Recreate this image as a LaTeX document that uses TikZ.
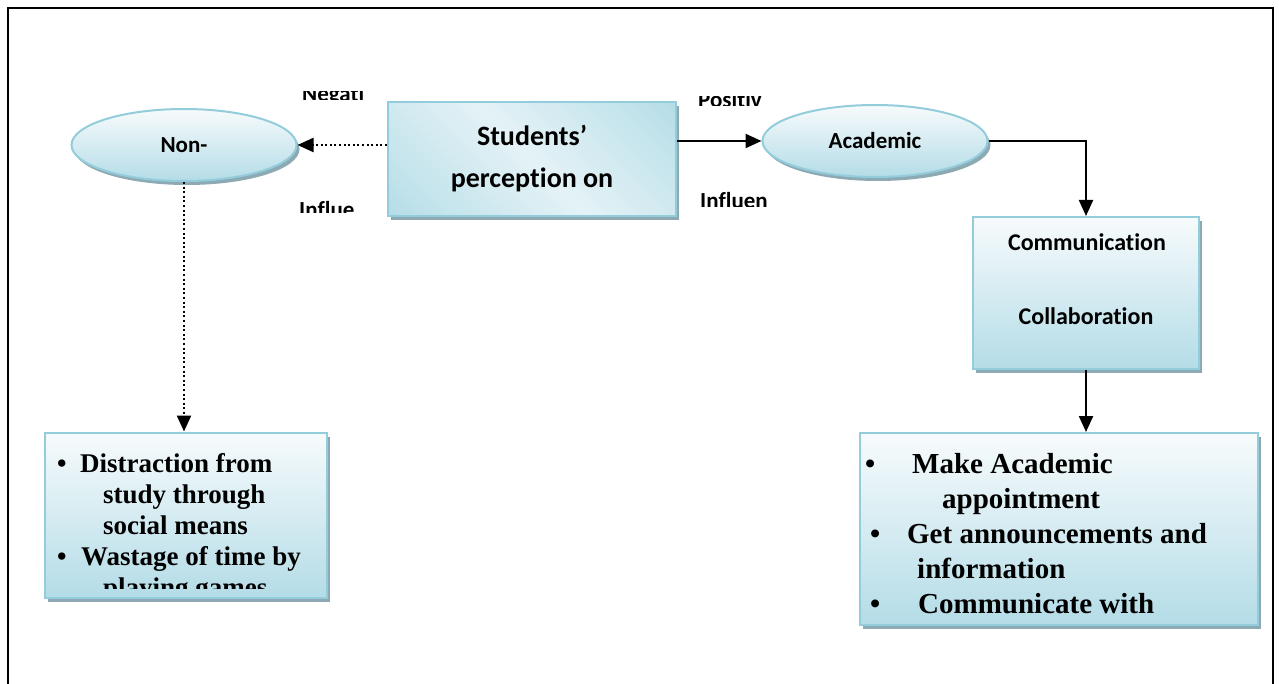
\documentclass[tikz,border=0pt]{standalone}
\usepackage{fontspec}
\setmainfont{Liberation Serif}
\newfontfamily\calfont[Ligatures=NoCommon]{Carlito}
\usetikzlibrary{arrows.meta,shapes.geometric,shadows}

\definecolor{rimblue}{HTML}{93CDDC}
\definecolor{paleblue}{HTML}{F7FBFC}
\definecolor{deepblue}{HTML}{B4DCE7}
\definecolor{shadowgrey}{HTML}{8DA9B3}
\definecolor{cornerblue}{HTML}{9FD1DE}
\definecolor{midblue}{HTML}{C4E4EC}
\definecolor{bandblue}{HTML}{E4F2F6}

\pgfdeclarehorizontalshading{studsheen}{100bp}{color(0bp)=(cornerblue); color(25bp)=(midblue);
  color(50bp)=(bandblue); color(75bp)=(midblue); color(100bp)=(cornerblue)}

\tikzset{
  glow/.style={draw=rimblue, line width=2pt, top color=paleblue, bottom color=deepblue,
    drop shadow={shadow xshift=3pt, shadow yshift=-4pt, fill=shadowgrey, opacity=1}},
  blob/.style={glow, ellipse, minimum width=225pt, minimum height=72pt, inner sep=0pt,
    font=\calfont\bfseries\fontsize{23}{27}\selectfont},
  panel/.style={glow, rectangle, inner sep=0pt},
  tag/.style={anchor=base west, inner sep=0pt, font=\calfont\bfseries\fontsize{23}{27}\selectfont},
  solidarr/.style={line width=2.2pt, -{Triangle[length=16pt,width=14pt]}},
  dotarr/.style={line width=2.2pt, dash pattern=on 2pt off 2.6pt, -{Triangle[length=16pt,width=14pt]}},
}

\begin{document}
\begin{tikzpicture}[x=1pt, y=-1pt]
\useasboundingbox (0,0) rectangle (1279,684);
\draw[line width=2pt] (8,684) -- (8,8) -- (1273,8) -- (1273,684);

% shapes
\node[blob] (non) at (184,145) {Non-};
\node[blob] (acad) at (875,141) {Academic};
\node[panel, minimum width=288pt, minimum height=114pt, align=center,
  shading=studsheen, shading angle=45,
  font=\calfont\bfseries\fontsize{28}{42}\selectfont] (stud) at (532,159) {Students’\\perception on};
\node[panel, minimum width=226pt, minimum height=152pt] (comm) at (1086,293) {};
\node[panel, minimum width=282pt, minimum height=165pt] (llist) at (186,515) {};
\node[panel, minimum width=398pt, minimum height=192pt] (rlist) at (1059,529) {};

% cut-off labels
\begin{scope}
\clip (290,92) rectangle (380,100);
\node[tag] (neg) at (302,102) {Negati};
\end{scope}
\begin{scope}
\clip (290,195) rectangle (380,213);
\node[tag] (inf1) at (299,218) {Influe};
\end{scope}
\begin{scope}
\clip (690,97) rectangle (780,106);
\node[tag] (pos) at (698,108) {Positiv};
\end{scope}
\begin{scope}
\clip (690,185) rectangle (780,207);
\node[tag] (inf2) at (700,209) {Influen};
\end{scope}

% box texts
\node[anchor=base, inner sep=0pt, font=\calfont\bfseries\fontsize{24}{28}\selectfont] (comm1) at (1087,251) {Communication};
\node[anchor=base, inner sep=0pt, font=\calfont\bfseries\fontsize{24}{28}\selectfont] (comm2) at (1086,325) {Collaboration};
\begin{scope}
\clip (46,434) rectangle (327,588);
\node[anchor=base west, inner sep=0pt, align=left, font=\bfseries\fontsize{27}{31}\selectfont] (ltext) at (57,596)
  {\makebox[23pt][l]{\textbullet}Distraction from\\
   \hspace*{46pt}study through\\
   \hspace*{46pt}social means\\
   \makebox[24pt][l]{\textbullet}Wastage of time by\\
   \hspace*{46pt}playing games};
\end{scope}
\node[anchor=base west, inner sep=0pt, align=left, font=\bfseries\fontsize{29}{35}\selectfont] (rtext) at (865,613)
  {\makebox[47pt][l]{\textbullet}Make Academic\\
   \hspace*{77pt}appointment\\
   \hspace*{5pt}\makebox[37pt][l]{\textbullet}Get announcements and\\
   \hspace*{52pt}information\\
   \hspace*{5pt}\makebox[48pt][l]{\textbullet}Communicate with};

% connectors
\draw[dotarr] (stud.west |- non.east) -- (non.east);
\draw[solidarr] (stud.east |- acad.west) -- (acad.west);
\draw[solidarr] (acad.east) -| (comm.north);
\draw[solidarr] (comm.south) -- (comm.south |- rlist.north);
\draw[dotarr] (non.south) -- (non.south |- llist.north);
\end{tikzpicture}
\end{document}
